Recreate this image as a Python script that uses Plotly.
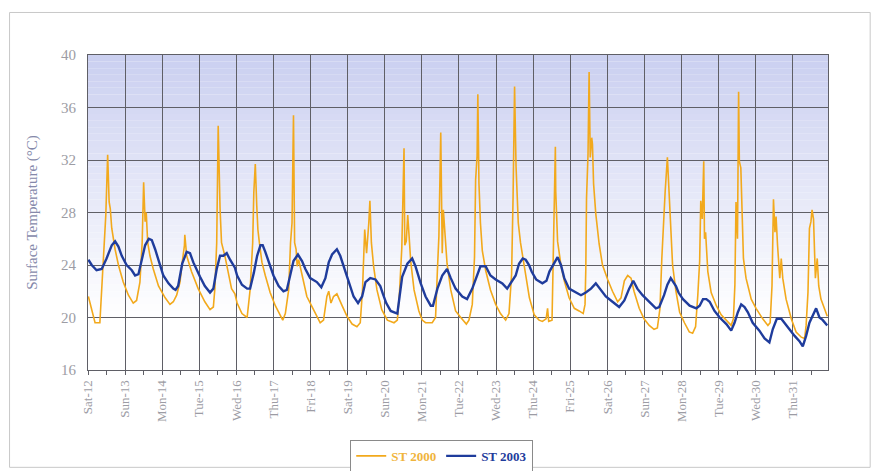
import plotly.graph_objects as go

# ---- data (time in days from Sat-12 00:00, surface temperature in °C) ----
day_labels = ["Sat-12", "Sun-13", "Mon-14", "Tue-15", "Wed-16", "Thu-17", "Fri-18",
              "Sat-19", "Sun-20", "Mon-21", "Tue-22", "Wed-23", "Thu-24", "Fri-25",
              "Sat-26", "Sun-27", "Mon-28", "Tue-29", "Wed-30", "Thu-31"]
y_ticks = [16, 20, 24, 28, 32, 36, 40]

st2000_day = [0.01, 0.19, 0.32, 0.41, 0.48, 0.53, 0.57, 0.60, 0.64, 0.73, 0.82, 0.95, 1.09, 1.22, 1.31,
              1.40, 1.46, 1.50, 1.54, 1.57, 1.61, 1.67, 1.76, 1.90, 2.08, 2.21, 2.30, 2.39, 2.48, 2.54,
              2.60, 2.61, 2.66, 2.79, 2.97, 3.15, 3.29, 3.38, 3.42, 3.47, 3.51, 3.56, 3.60, 3.69, 3.87,
              3.96, 4.02, 4.15, 4.29, 4.37, 4.44, 4.47, 4.51, 4.55, 4.58, 4.62, 4.69, 4.78, 4.91, 5.05,
              5.18, 5.25, 5.32, 5.41, 5.46, 5.50, 5.54, 5.57, 5.61, 5.64, 5.68, 5.77, 5.90, 6.08, 6.26,
              6.35, 6.44, 6.49, 6.55, 6.62, 6.71, 6.85, 6.98, 7.12, 7.25, 7.34, 7.40, 7.46, 7.51, 7.57,
              7.60, 7.64, 7.70, 7.79, 7.92, 8.07, 8.25, 8.34, 8.40, 8.46, 8.49, 8.52, 8.54, 8.58, 8.62,
              8.65, 8.70, 8.79, 8.92, 9.01, 9.10, 9.28, 9.37, 9.42, 9.46, 9.51, 9.53, 9.55, 9.58, 9.61,
              9.68, 9.78, 9.91, 10.05, 10.20, 10.27, 10.36, 10.42, 10.45, 10.49, 10.51, 10.54, 10.58,
              10.63, 10.72, 10.85, 10.99, 11.12, 11.26, 11.35, 11.42, 11.46, 11.50, 11.54, 11.60, 11.66,
              11.75, 11.90, 12.03, 12.16, 12.25, 12.35, 12.39, 12.42, 12.51, 12.54, 12.57, 12.60, 12.61,
              12.63, 12.66, 12.75, 12.84, 12.97, 13.11, 13.24, 13.35, 13.40, 13.42, 13.44, 13.48, 13.51,
              13.54, 13.58, 13.60, 13.63, 13.69, 13.78, 13.87, 14.01, 14.14, 14.28, 14.37, 14.46, 14.55,
              14.64, 14.72, 14.86, 14.99, 15.13, 15.26, 15.35, 15.42, 15.47, 15.51, 15.56, 15.62, 15.69,
              15.76, 15.85, 15.95, 16.08, 16.21, 16.30, 16.38, 16.44, 16.49, 16.52, 16.56, 16.60, 16.62,
              16.65, 16.68, 16.71, 16.80, 16.94, 17.07, 17.21, 17.34, 17.40, 17.44, 17.47, 17.51, 17.54,
              17.56, 17.60, 17.63, 17.67, 17.74, 17.88, 18.01, 18.19, 18.33, 18.39, 18.44, 18.46, 18.48,
              18.52, 18.55, 18.59, 18.62, 18.65, 18.69, 18.73, 18.82, 18.96, 19.09, 19.23, 19.32, 19.36,
              19.41, 19.45, 19.49, 19.52, 19.56, 19.59, 19.61, 19.66, 19.70, 19.76, 19.85, 19.93]
st2000_val = [21.6, 19.6, 19.6, 24.7, 27.8, 32.4, 28.8, 28.3, 26.8, 25.2, 24.0, 22.7, 21.7, 21.1, 21.3,
              22.7, 25.7, 30.3, 27.3, 28.0, 25.7, 24.7, 23.7, 22.4, 21.5, 21.0, 21.2, 21.7, 22.7, 24.2,
              25.5, 26.3, 24.7, 23.5, 22.2, 21.2, 20.6, 20.8, 22.2, 25.7, 34.6, 28.3, 25.7, 24.7, 22.2,
              21.8, 21.1, 20.3, 20.0, 22.1, 25.7, 29.5, 31.7, 28.5, 26.7, 25.7, 24.2, 23.2, 21.9, 20.9,
              20.1, 19.8, 20.3, 22.1, 25.7, 27.2, 35.4, 25.7, 25.2, 23.9, 24.4, 23.2, 21.6, 20.6, 19.6,
              19.8, 21.6, 22.0, 21.1, 21.6, 21.8, 20.9, 20.1, 19.5, 19.3, 19.6, 22.1, 26.7, 24.9, 27.2,
              28.9, 25.7, 23.9, 22.1, 20.6, 19.8, 19.6, 19.8, 22.0, 25.3, 29.9, 32.9, 25.5, 25.8, 27.8,
              26.7, 24.3, 22.1, 20.5, 19.8, 19.6, 19.6, 20.0, 23.6, 26.2, 34.1, 29.2, 24.9, 28.2, 26.7,
              24.1, 22.1, 20.5, 20.0, 19.5, 19.8, 21.0, 24.6, 30.5, 32.3, 37.0, 30.2, 27.2,
              25.1, 23.6, 22.1, 21.0, 20.3, 19.8, 20.3, 23.3, 29.2, 37.6, 31.5, 27.2, 25.7,
              24.1, 21.5, 20.2, 19.8, 19.7, 19.9, 20.7, 19.7, 19.8, 24.5, 30.9, 33.0, 29.6,
              27.1, 25.8, 24.0, 22.8, 21.5, 20.7, 20.5, 20.3, 21.0, 23.6, 29.1, 32.4, 38.7,
              32.2, 33.7, 33.2, 30.2, 27.9, 25.6, 24.0, 22.9, 22.0, 21.2, 21.5, 22.8, 23.2,
              23.0, 22.0, 20.7, 19.9, 19.4, 19.1, 19.2, 20.7, 24.5, 27.1, 29.6, 32.2, 28.4,
              24.0, 22.0, 20.4, 19.6, 18.9, 18.8, 19.3, 21.7, 24.3, 28.9, 27.5, 31.9, 26.0,
              26.5, 25.3, 23.5, 21.9, 20.9, 20.2, 19.8, 19.4, 19.9, 22.5, 28.8, 26.0, 37.2,
              31.9, 31.4, 27.5, 24.5, 23.0, 21.4, 20.7, 19.9, 19.4, 19.6, 22.4, 25.5, 29.0,
              26.5, 27.7, 25.5, 24.5, 23.0, 24.5, 23.0, 21.4, 19.9, 18.9, 18.5, 18.4, 19.4,
              21.9, 26.8, 27.3, 28.2, 27.5, 25.5, 23.0, 24.5, 22.4, 21.4, 20.7, 20.1]

st2003_day = [0.01, 0.10, 0.23, 0.37, 0.50, 0.64, 0.73, 0.82, 0.91, 1.04, 1.18, 1.27, 1.36, 1.45, 1.54,
              1.64, 1.72, 1.81, 1.90, 2.03, 2.17, 2.30, 2.36, 2.43, 2.54, 2.66, 2.75, 2.84, 3.02, 3.15,
              3.29, 3.38, 3.47, 3.56, 3.65, 3.74, 3.83, 3.96, 4.02, 4.15, 4.29, 4.37, 4.47, 4.56, 4.65,
              4.71, 4.78, 4.87, 5.00, 5.14, 5.27, 5.36, 5.45, 5.54, 5.66, 5.77, 5.86, 5.99, 6.17, 6.29,
              6.40, 6.49, 6.58, 6.71, 6.80, 6.89, 7.03, 7.16, 7.28, 7.39, 7.48, 7.61, 7.75, 7.88, 7.95,
              8.04, 8.16, 8.34, 8.40, 8.47, 8.61, 8.74, 8.83, 8.97, 9.10, 9.24, 9.30, 9.42, 9.55, 9.68,
              9.78, 9.91, 10.09, 10.22, 10.36, 10.49, 10.58, 10.72, 10.85, 10.99, 11.17, 11.30, 11.39,
              11.53, 11.62, 11.72, 11.80, 11.89, 11.96, 12.08, 12.25, 12.36, 12.44, 12.53, 12.66, 12.75,
              12.84, 12.97, 13.15, 13.29, 13.42, 13.56, 13.69, 13.83, 13.96, 14.14, 14.32, 14.46, 14.59,
              14.70, 14.81, 14.95, 15.13, 15.31, 15.40, 15.53, 15.62, 15.71, 15.85, 15.92, 16.04, 16.22,
              16.40, 16.49, 16.58, 16.67, 16.76, 16.89, 17.03, 17.21, 17.34, 17.43, 17.52, 17.61, 17.70,
              17.79, 17.92, 18.10, 18.24, 18.37, 18.46, 18.57, 18.69, 18.78, 18.91, 19.05, 19.18, 19.27,
              19.36, 19.45, 19.54, 19.63, 19.72, 19.81, 19.93]
st2003_val = [24.4, 24.0, 23.6, 23.7, 24.5, 25.5, 25.8, 25.4, 24.7, 24.0, 23.6, 23.2, 23.3, 24.5, 25.5,
              26.0, 25.9, 25.2, 24.4, 23.2, 22.6, 22.2, 22.1, 22.4, 24.1, 25.0, 24.9, 24.2, 23.1, 22.4,
              21.9, 22.2, 23.7, 24.7, 24.7, 24.9, 24.4, 23.8, 23.2, 22.5, 22.2, 22.2, 23.4, 24.7, 25.5,
              25.5, 25.0, 24.2, 23.2, 22.4, 22.0, 22.1, 23.2, 24.3, 24.8, 24.3, 23.7, 23.0, 22.7, 22.3,
              23.0, 24.2, 24.8, 25.2, 24.7, 23.9, 22.7, 21.6, 21.1, 21.6, 22.7, 23.0, 22.9, 22.4, 21.8,
              21.1, 20.5, 20.3, 21.6, 23.1, 24.1, 24.5, 23.9, 22.6, 21.6, 20.9, 20.9, 22.2, 23.2, 23.7,
              23.0, 22.2, 21.6, 21.4, 22.2, 23.2, 23.9, 23.9, 23.2, 22.9, 22.6, 22.2, 22.6,
              23.2, 24.1, 24.5, 24.4, 24.0, 23.5, 22.9, 22.6, 22.8, 23.5, 24.0, 24.6, 24.0,
              23.0, 22.2, 21.9, 21.7, 21.9, 22.2, 22.6, 22.1, 21.6, 21.2, 20.8, 21.3, 22.2,
              22.8, 22.2, 21.7, 21.2, 20.7, 20.8, 21.7, 22.5, 23.0, 22.4, 21.9, 21.4, 20.9,
              20.7, 20.9, 21.4, 21.4, 21.2, 20.5, 20.0, 19.5, 19.0, 19.6, 20.4, 21.0, 20.8,
              20.4, 19.6, 19.0, 18.4, 18.1, 19.1, 19.9, 19.9, 19.6, 19.1, 18.6, 18.2, 17.8,
              18.6, 19.6, 20.1, 20.7, 20.0, 19.8, 19.4]

# ---- styling ----
ORANGE = "#f2a91c"
BLUE = "#1f3c9c"
GRID = "#5f5f66"
SERIF = "Liberation Serif, Times New Roman, serif"
TICKFONT = dict(family=SERIF, color="#9c9ca4")

fig = go.Figure()
fig.add_trace(go.Scatter(
    x=st2000_day, y=st2000_val, mode="lines",
    name="<b><span style='color:#f0b43c'>ST 2000</span></b>",
    line=dict(color=ORANGE, width=1.6)))
fig.add_trace(go.Scatter(
    x=st2003_day, y=st2003_val, mode="lines",
    name="<b><span style='color:#1f3c9c'>ST 2003</span></b>",
    line=dict(color=BLUE, width=2.4)))

# vertical gradient background (lavender at top fading to white)
n_strips = 40
y_lo, y_hi = 20.0, 40.0
top_rgb = (202, 207, 240)
for i in range(n_strips):
    f0 = i / n_strips
    f1 = (i + 1) / n_strips
    t = (f0 + f1) / 2  # 0 bottom, 1 top
    r = round(255 + (top_rgb[0] - 255) * t)
    g = round(255 + (top_rgb[1] - 255) * t)
    b = round(255 + (top_rgb[2] - 255) * t)
    fig.add_shape(type="rect", xref="paper", yref="y",
                  x0=0, x1=1, y0=y_lo + (y_hi - y_lo) * f0, y1=y_lo + (y_hi - y_lo) * f1,
                  fillcolor=f"rgb({r},{g},{b})", line=dict(width=0), layer="below")

# outer frame of the chart
fig.add_shape(type="rect", xref="paper", yref="paper",
              x0=-0.106, x1=1.057, y0=-0.309, y1=1.135,
              line=dict(color="#c8c8c8", width=1), fillcolor="rgba(0,0,0,0)", layer="below")

fig.update_layout(
    width=872, height=463,
    margin=dict(l=80, r=52, t=47, b=101, autoexpand=False),
    paper_bgcolor="white", plot_bgcolor="white",
    showlegend=True,
    legend=dict(orientation="h", x=0.478, xanchor="center", y=-0.222, yanchor="top",
                bgcolor="white", bordercolor="#8a8a8a", borderwidth=1,
                font=dict(family=SERIF, size=13),
                itemwidth=30, tracegroupgap=0),
    font=dict(family=SERIF),
)

fig.update_xaxes(
    range=[0, 19.95], automargin=False,
    tickmode="array", tickvals=list(range(len(day_labels))), ticktext=day_labels,
    tickangle=-90, tickfont=dict(size=13, **TICKFONT),
    ticks="outside", ticklen=4, tickcolor=GRID,
    showgrid=True, gridcolor=GRID, gridwidth=1,
    showline=True, linecolor=GRID, linewidth=1, mirror=True,
    zeroline=False,
    minor=dict(dtick=0.5, tick0=0.5, ticks="outside", ticklen=4, tickcolor=GRID, showgrid=False),
)
fig.update_yaxes(
    range=[16, 40], tickmode="array", tickvals=y_ticks, automargin=False,
    tickfont=dict(size=15, **TICKFONT),
    ticks="", ticklabelstandoff=8,
    showgrid=True, gridcolor=GRID, gridwidth=1,
    showline=True, linecolor=GRID, linewidth=1, mirror=True,
    zeroline=False,
    title=dict(text="Surface Temperature (°C)", standoff=19,
               font=dict(family=SERIF, size=15, color="#8589aa")),
)

fig.write_html("out.html")
